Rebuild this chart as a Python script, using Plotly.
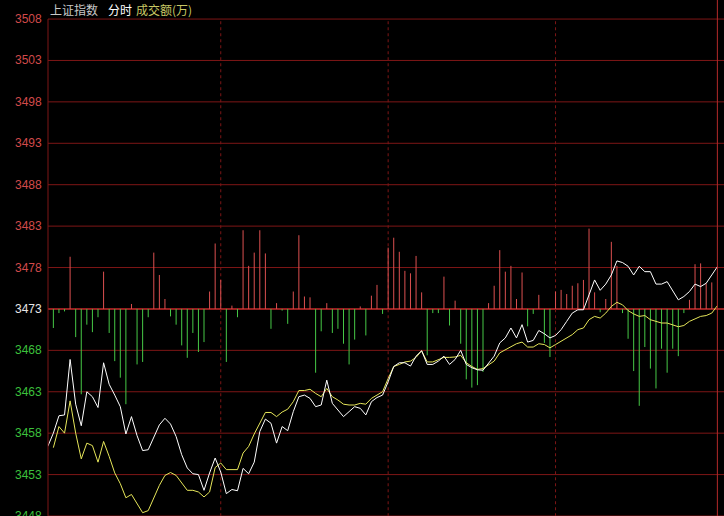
import plotly.graph_objects as go

# ---------------- data ----------------
BASE = 3473  # previous close (reference line)
y_ticks = [3508, 3503, 3498, 3493, 3488, 3483, 3478, 3473, 3468, 3463, 3458, 3453, 3448]

# price (white) minute index -1..119
price_x = list(range(-1, 120))
price = [3456.4,
    3458.0, 3460.1, 3460.2, 3466.9, 3461.5, 3458.9, 3463.0, 3462.4, 3461.1, 3466.5,
    3463.9, 3462.6, 3461.2, 3457.9, 3460.0, 3457.7, 3455.9, 3456.0, 3457.4, 3459.0,
    3459.8, 3459.1, 3457.6, 3455.4, 3453.8, 3453.1, 3453.0, 3451.1, 3453.2, 3455.0,
    3453.3, 3450.7, 3451.2, 3451.05, 3453.75, 3453.1, 3454.5, 3458.2, 3459.7, 3459.2,
    3456.8, 3458.8, 3458.3, 3460.6, 3462.4, 3462.6, 3462.2, 3461.2, 3461.4, 3464.4,
    3461.6, 3460.8, 3460.0, 3460.6, 3461.2, 3461.0, 3460.2, 3461.8, 3462.3, 3462.6,
    3464.2, 3466.05, 3466.5, 3466.5, 3466.1, 3467.3, 3467.95, 3466.3, 3466.3, 3466.7,
    3467.3, 3466.3, 3466.9, 3468.0, 3466.3, 3465.9, 3465.65, 3465.6, 3466.5, 3467.3,
    3468.9, 3469.5, 3470.7, 3469.5, 3471.1, 3469.0, 3469.2, 3470.4, 3470.0, 3469.5,
    3469.8, 3470.5, 3471.5, 3472.5, 3472.9, 3472.9, 3474.7, 3476.5, 3475.25, 3476.0,
    3477.1, 3478.8, 3478.6, 3478.15, 3477.1, 3478.15, 3477.5, 3477.5, 3476.0, 3476.0,
    3476.3, 3475.25, 3474.1, 3474.5, 3475.1, 3476.0, 3475.7, 3476.1, 3477.1, 3478.1]

# average price (yellow) minute index 0..119
avg_x = list(range(0, 120))
avg_price = [
    3456.25, 3458.8, 3458.0, 3461.9, 3458.0, 3454.9, 3456.8, 3456.5, 3454.5, 3457.0,
    3455.2, 3453.2, 3451.9, 3450.2, 3450.6, 3449.5, 3448.4, 3448.65, 3450.1, 3451.7,
    3452.9, 3453.25, 3452.9, 3451.95, 3451.1, 3451.1, 3450.9, 3450.3, 3450.9, 3453.85,
    3454.4, 3453.6, 3453.6, 3453.6, 3455.6, 3456.4, 3457.9, 3459.3, 3460.5, 3460.5,
    3460.0, 3460.55, 3460.9, 3461.8, 3463.15, 3463.15, 3463.3, 3462.8, 3462.4, 3463.4,
    3462.4, 3462.0, 3461.5, 3461.4, 3461.4, 3461.6, 3461.5, 3462.2, 3462.6, 3463.0,
    3464.6, 3466.05, 3466.3, 3466.6, 3466.7, 3467.15, 3467.95, 3466.6, 3466.6, 3466.9,
    3467.15, 3467.15, 3467.2, 3467.4, 3466.5, 3466.05, 3465.7, 3465.8, 3466.3, 3466.7,
    3467.7, 3468.1, 3468.5, 3468.8, 3469.0, 3468.4, 3468.4, 3468.8, 3468.7, 3468.3,
    3468.7, 3469.1, 3469.5, 3469.9, 3470.5, 3470.7, 3471.7, 3472.1, 3471.9, 3472.5,
    3473.3, 3473.8, 3473.5, 3472.8, 3472.4, 3472.1, 3472.2, 3471.7, 3471.5, 3471.3,
    3471.3, 3471.1, 3470.85, 3471.0, 3471.5, 3471.8, 3472.1, 3472.2, 3472.5, 3473.4]

# 成交额 bars (display scale, +up red / -down green), minute index 0..119
amount = [
    -2.3, -0.5, -0.3, 6.3, -3.4, -10.3, -1.9, -2.8, -1.0, 4.5,
    -2.9, -6.3, -8.3, -11.5, 0.6, -6.7, -6.4, -1.0, 6.8, 4.1,
    1.2, -0.9, -1.9, -4.4, -5.9, -2.9, -5.2, -4.0, 2.1, 7.9,
    3.5, -6.4, 0.4, -1.0, 9.5, 5.2, 6.8, 9.5, 6.7, -2.4,
    0.7, -0.2, -1.8, 2.1, 8.9, 1.5, 1.4, -7.7, -2.7, 0.7,
    -2.9, -2.4, -4.2, -6.7, -3.7, 0.3, -3.2, 1.6, 2.9, -0.6,
    7.4, 8.6, 6.9, 4.6, 4.3, 6.4, 2.0, -5.6, -0.5, -0.5,
    3.9, -2.0, 1.0, -4.2, -8.5, -9.5, -9.2, -7.6, 0.7, 2.8,
    7.1, 4.5, 5.2, 1.2, 4.4, -2.1, -0.6, 1.7, -4.1, -5.8,
    2.1, 2.3, 1.8, 2.8, 3.1, 3.5, 9.7, 2.0, -0.4, 1.2,
    8.1, 5.2, -0.5, -3.6, -7.5, -11.7, -4.6, -7.2, -9.6, -4.8,
    -7.7, -4.8, -5.7, -0.5, 1.1, 5.4, 5.5, 3.1, 3.2, 0.0]

section_lines = [30, 60, 90]
cursor_x = 119

# ---------------- styling ----------------
W, H = 724, 516
L = 48
GRID = "#7e1616"
RED_TXT = "#d24a4a"
GREEN_TXT = "#3cc03c"
WHITE_TXT = "#e6e6e6"

fig = go.Figure()

# bars as vertical 1px segments
def seg(sel):
    xs, ys = [], []
    for i, v in enumerate(amount):
        if sel(v):
            xs += [i, i, None]
            ys += [BASE, BASE + v, None]
    return xs, ys

rx, ry = seg(lambda v: v > 0)
gx, gy = seg(lambda v: v < 0)
fig.add_trace(go.Scatter(x=gx, y=gy, mode="lines", line=dict(color="#46c846", width=1),
                         hoverinfo="skip", showlegend=False))
fig.add_trace(go.Scatter(x=rx, y=ry, mode="lines", line=dict(color="#dc5050", width=1),
                         hoverinfo="skip", showlegend=False))

fig.add_trace(go.Scatter(x=avg_x, y=avg_price, mode="lines",
                         line=dict(color="#e6e65a", width=1), showlegend=False))
fig.add_trace(go.Scatter(x=price_x, y=price, mode="lines",
                         line=dict(color="#ffffff", width=1), showlegend=False))

shapes = []
for t in y_ticks:
    shapes.append(dict(type="line", xref="paper", x0=0, x1=1, yref="y", y0=t, y1=t,
                       line=dict(color=GRID if t != BASE else "#962020",
                                 width=1 if t != BASE else 2), layer="below"))
for s in section_lines:
    shapes.append(dict(type="line", xref="x", x0=s, x1=s, yref="y", y0=3440, y1=y_ticks[0],
                       line=dict(color=GRID, width=1, dash="dot"), layer="below"))
# left border
shapes.append(dict(type="line", xref="paper", x0=0, x1=0, yref="y", y0=3440, y1=y_ticks[0],
                   line=dict(color=GRID, width=1)))
# right cursor line
shapes.append(dict(type="line", xref="x", x0=cursor_x, x1=cursor_x, yref="paper", y0=0, y1=1,
                   line=dict(color="#b42a2a", width=1)))

annotations = []
for t in y_ticks:
    col = RED_TXT if t > BASE else (GREEN_TXT if t < BASE else WHITE_TXT)
    annotations.append(dict(xref="paper", x=0, xanchor="right", xshift=-4,
                            yref="y", y=t, yanchor="middle", text=str(t), showarrow=False,
                            font=dict(family="Liberation Sans, Arial", size=12, color=col)))

def px2paper(px):
    return (px - L) / (W - L)

title_parts = [("上证指数", 48, "#c8c8c8"), ("分时", 106, "#ffffff"), ("成交额(万)", 134, "#c8c864")]
for txt, px, col in title_parts:
    annotations.append(dict(xref="paper", x=px2paper(px), xanchor="left", yref="paper",
                            y=1 - 9.5 / H, yanchor="middle", text=txt, showarrow=False,
                            font=dict(family="Noto Sans CJK SC", size=12, color=col)))

fig.update_layout(
    width=W, height=H,
    margin=dict(l=L, r=0, t=0, b=0),
    paper_bgcolor="#000000", plot_bgcolor="#000000",
    xaxis=dict(range=[-0.96, 120.19], visible=False, fixedrange=True),
    yaxis=dict(range=[3448.0, 3510.3], visible=False, fixedrange=True),
    shapes=shapes, annotations=annotations,
    showlegend=False,
)

fig.write_html(
    "out.html",
    config={"displayModeBar": False},
    post_script="document.body.style.margin='0';document.body.style.overflow='hidden';"
                "document.body.style.background='#000';",
)
